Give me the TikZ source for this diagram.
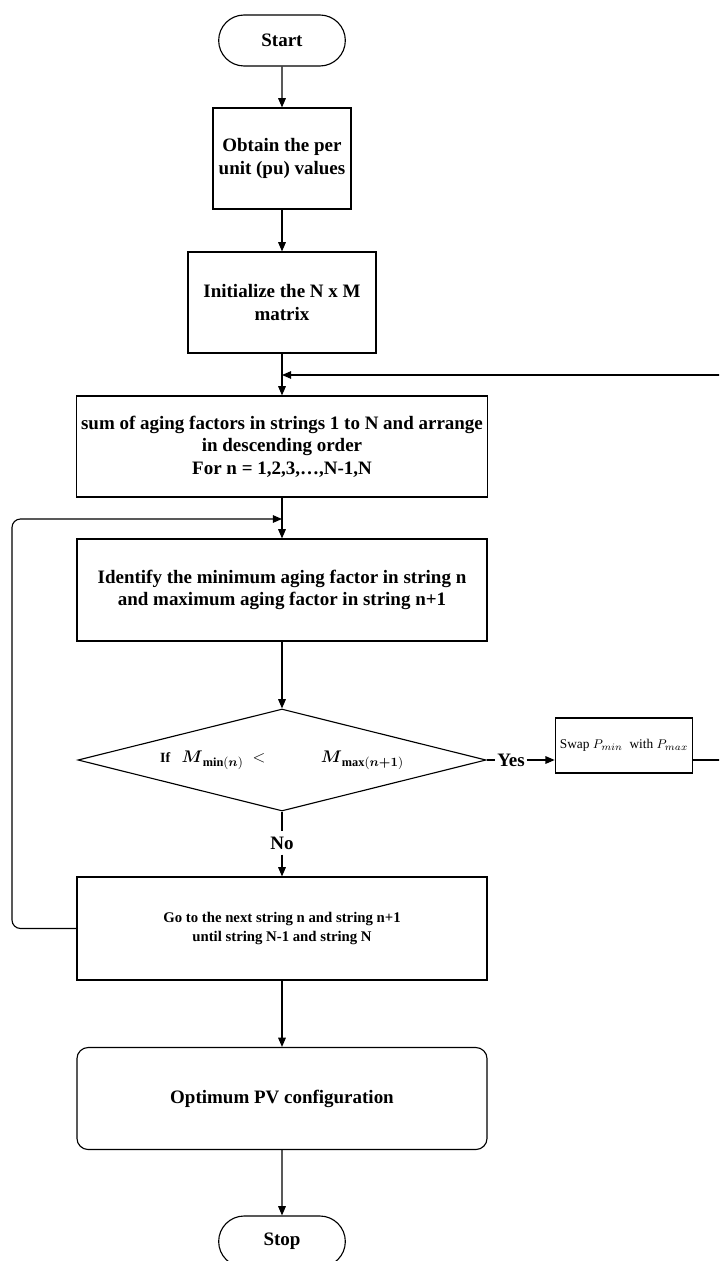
\documentclass[tikz,border=0pt]{standalone}
\usepackage{amsmath}
\usepackage{fontspec}
\setmainfont{Liberation Serif}
\usetikzlibrary{arrows.meta,positioning,shapes.geometric,shapes.misc}

\begin{document}
\begin{tikzpicture}[
  x=0.025cm, y=-0.025cm,
  line width=0.8pt,
  every node/.style={font=\fontsize{13.5}{16}\selectfont\bfseries,align=center},
  term/.style={draw,rounded rectangle,minimum width=3.4cm,minimum height=1.275cm},
  proc/.style={draw,rectangle,minimum height=2.525cm},
  small/.style={font=\fontsize{10.5}{13}\selectfont\bfseries},
  dec/.style={draw,diamond,aspect=4,inner sep=0pt,minimum width=10.2cm,minimum height=2.55cm},
  flow/.style={-{Triangle[length=2.3mm,width=1.9mm]}}
]
\useasboundingbox (0,0) rectangle (719,1261);
\clip (0,0) rectangle (719,1261);

% main column
\node[term] (start) at (282,40.5) {Start};
\node[proc,minimum width=3.45cm] (pu) at (282,158.5) {Obtain the per\\unit (pu) values};
\node[proc,minimum width=4.7cm] (init) at (282,302.5) {Initialize the N x M\\matrix};
\node[proc,minimum width=10.275cm] (sum) at (282,446.5)
  {sum of aging factors in strings 1 to N and arrange\\in descending order\\For n = 1,2,3,\dots,N-1,N};
\node[proc,minimum width=10.25cm,minimum height=2.55cm] (ident) at (282,590)
  {Identify the minimum aging factor in string n\\and maximum aging factor in string n+1};
\node[dec] (test) at (282,760)
  {\fontsize{10}{12}\selectfont If\;\; \fontsize{12.5}{14}\selectfont
   $\boldsymbol{M}_{\mathbf{min}(\boldsymbol{n})}\ <\hspace{36pt}\boldsymbol{M}_{\mathbf{max}(\boldsymbol{n+1})}$};
\node[proc,small,minimum width=10.25cm,minimum height=2.575cm] (next) at (282,928.5)
  {Go to the next string n and string n+1\\until string N-1 and string N};
\node[proc,rounded corners=8pt,minimum width=10.25cm,minimum height=2.55cm] (opt) at (282,1098.5)
  {Optimum PV configuration};
\node[term] (stop) at (282,1241.5) {Stop};

% side branch
\node[inner sep=1pt] (yes) at (511,760) {Yes};
\node (no) at (282,843) {No};
\node[draw,minimum width=3.4cm,minimum height=1.375cm,font=\fontsize{9.5}{11}\selectfont] (swap) at (624,745.5)
  {Swap $P_{min}$\ \ with $P_{max}$};

\coordinate (ret) at (282,375);
\coordinate (loop) at (282,519);
\coordinate (edge) at (725,375);
\coordinate (lft) at (12,519);

% connectors
\draw[flow] (start) -- (pu);
\draw[flow] (pu) -- (init);
\draw[flow] (init) -- (sum);
\draw[flow] (sum) -- (ident);
\draw[flow] (ident) -- (test);
\draw (test.south) -- (no);
\draw[flow] (no) -- (next);
\draw (test.east) -- (yes);
\draw[flow] (yes) -- (swap.west |- yes);
\draw[flow] (swap.east |- yes) -| (edge) -- (ret);
\draw[flow,rounded corners=6pt] (next.west) -| (lft) -- (loop);
\draw[flow] (next) -- (opt);
\draw[flow] (opt) -- (stop);
\end{tikzpicture}
\end{document}
